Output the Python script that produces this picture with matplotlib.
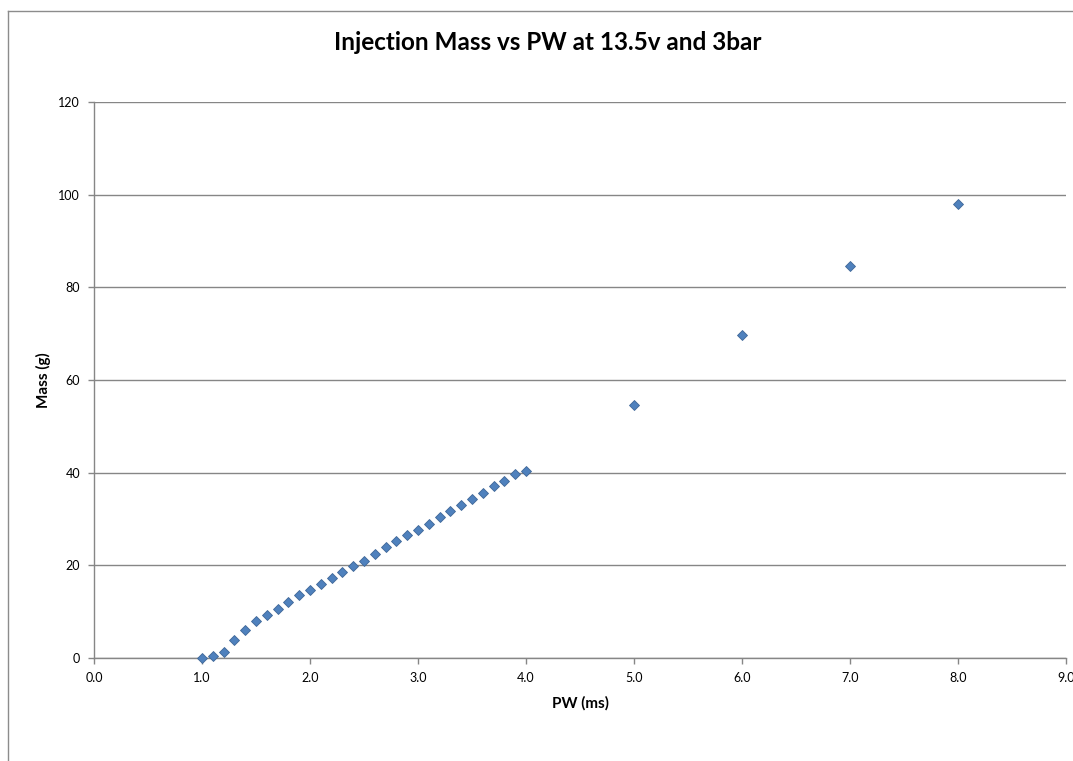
import matplotlib
matplotlib.use("Agg")
import matplotlib.pyplot as plt
from matplotlib.lines import Line2D

plt.rcParams['font.family'] = ['Lato', 'DejaVu Sans']

pw = [1.0, 1.1, 1.2, 1.3, 1.4, 1.5, 1.6, 1.7, 1.8, 1.9,
      2.0, 2.1, 2.2, 2.3, 2.4, 2.5, 2.6, 2.7, 2.8, 2.9,
      3.0, 3.1, 3.2, 3.3, 3.4, 3.5, 3.6, 3.7, 3.8, 3.9,
      4.0, 5.0, 6.0, 7.0, 8.0]
mass = [0.0, 0.4, 1.3, 3.9, 6.1, 7.9, 9.2, 10.6, 12.0, 13.5,
        14.7, 16.0, 17.3, 18.6, 19.9, 21.0, 22.4, 23.9, 25.3, 26.5,
        27.6, 28.9, 30.4, 31.7, 33.0, 34.4, 35.7, 37.1, 38.3, 39.7,
        40.4, 54.5, 69.7, 84.7, 98.0]

x_ticks = [0, 1, 2, 3, 4, 5, 6, 7, 8, 9]
y_ticks = [0, 20, 40, 60, 80, 100, 120]

W, H = 1073, 761
fig = plt.figure(figsize=(W / 100, H / 100), dpi=100)
ax = fig.add_axes([94 / W, 1 - 658 / H, (1066 - 94) / W, (658 - 102) / H])

grid_c = '#868686'
ax.set_xlim(0, 9)
ax.set_ylim(0, 120)
ax.set_xticks(x_ticks)
ax.set_xticklabels([f"{v:.1f}" for v in x_ticks])
ax.set_yticks(y_ticks)
ax.set_yticklabels([str(v) for v in y_ticks])
ax.yaxis.grid(True, color=grid_c, linewidth=1.0)
ax.set_axisbelow(True)
for s in ['top', 'right']:
    ax.spines[s].set_visible(False)
for s in ['left', 'bottom']:
    ax.spines[s].set_color(grid_c)
    ax.spines[s].set_linewidth(1.0)
ax.tick_params(axis='both', direction='out', length=4, width=1, color=grid_c,
               labelsize=9, labelcolor='black')
ax.tick_params(axis='x', pad=6)
ax.tick_params(axis='y', pad=6)

ax.plot(pw, mass, linestyle='none', marker='D', markersize=5.6,
        markerfacecolor='#4F81BD', markeredgecolor='#3F6797', markeredgewidth=0.6,
        clip_on=False, zorder=3)

ax.set_xlabel('PW (ms)', fontsize=11, fontweight='bold', labelpad=9)
ax.set_ylabel('Mass (g)', fontsize=11, fontweight='bold', labelpad=5)

fig.text(548 / W, 1 - 43 / H, 'Injection Mass vs PW at 13.5v and 3bar',
         ha='center', va='center', fontsize=17.5, fontweight='bold')

border_c = '#8C8C8C'
fig.add_artist(Line2D([8 / W, 8 / W], [0, 1 - 11 / H], transform=fig.transFigure,
                      color=border_c, linewidth=1.0))
fig.add_artist(Line2D([8 / W, 1], [1 - 11 / H, 1 - 11 / H], transform=fig.transFigure,
                      color=border_c, linewidth=1.0))

fig.savefig('out.png', dpi=100)
